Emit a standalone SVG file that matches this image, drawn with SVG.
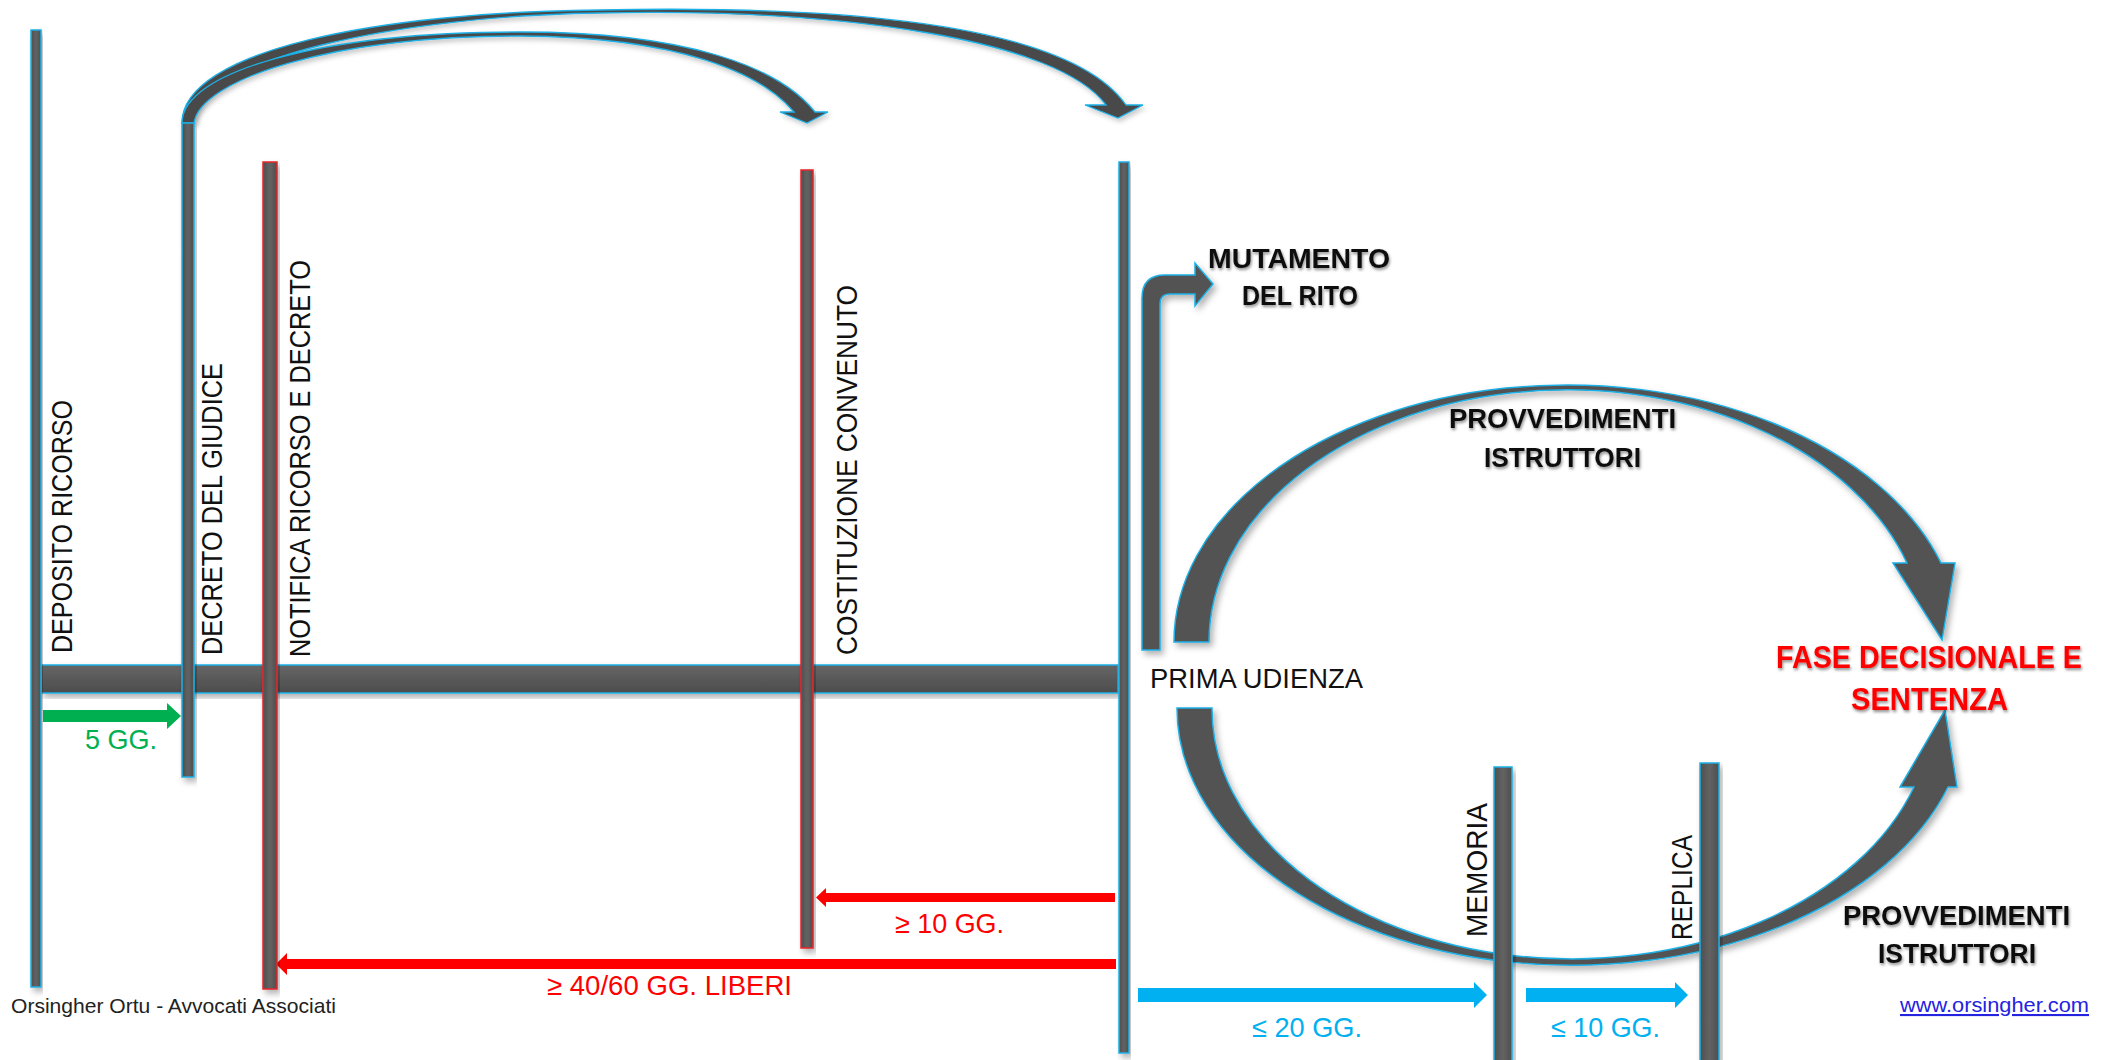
<svg xmlns="http://www.w3.org/2000/svg" width="2104" height="1060" viewBox="0 0 2104 1060">
<defs>
<filter id="sh" x="-20%" y="-20%" width="140%" height="140%"><feDropShadow dx="3" dy="4" stdDeviation="3" flood-color="#000" flood-opacity="0.3"/></filter>
<filter id="sh2" x="-20%" y="-20%" width="140%" height="140%"><feDropShadow dx="2" dy="3" stdDeviation="2.5" flood-color="#000" flood-opacity="0.22"/></filter>
<filter id="ts" x="-10%" y="-30%" width="120%" height="160%"><feDropShadow dx="1" dy="2" stdDeviation="1.5" flood-color="#000" flood-opacity="0.45"/></filter>
<linearGradient id="gv" x1="0" y1="0" x2="1" y2="0"><stop offset="0" stop-color="#4e4e4e"/><stop offset="0.5" stop-color="#636363"/><stop offset="1" stop-color="#4e4e4e"/></linearGradient>
<linearGradient id="gh" x1="0" y1="0" x2="0" y2="1"><stop offset="0" stop-color="#666"/><stop offset="1" stop-color="#4c4c4c"/></linearGradient>
<style>
.bar{fill:url(#gv);stroke:#1eb0e6;stroke-width:1.5;filter:url(#sh)}
.rbar{fill:url(#gv);stroke:#e8242a;stroke-width:1.5;filter:url(#sh)}
.arr{fill:#525252;stroke:#1eb0e6;stroke-width:1.5;filter:url(#sh)}
.thin{fill:#4a4a4a;stroke:#1eb0e6;stroke-width:1.3;filter:url(#sh2)}
.t{font-family:"Liberation Sans",Arial,sans-serif;font-size:29px;fill:#111}
.b{font-weight:bold;filter:url(#ts)}
</style>
</defs>

<g id="timeline">
<rect x="41" y="665" width="1077" height="28" fill="url(#gh)" stroke="#1eb0e6" stroke-width="1.5" filter="url(#sh)"/>
</g>

<g id="connectors">
<path class="thin" d="M182,123 C182,50 380,12 600,10 C850,5 1070,25 1126,105 L1143,105 L1118,118 L1085,105 L1106,105 C1058,40 845,8 600,13 C400,16 196,58 194,123 Z"/>
<path class="thin" d="M182,123 C182,72 320,32 520,32 C690,32 780,68 815,112 L828,112 L807,123 L780,112 L794,112 C762,74 682,37 520,36 C330,36 200,80 194,123 Z"/>
<path class="arr" d="M1142,650 V298 Q1142,275 1165,275 H1195 V263 L1213,284 L1195,306 V294 H1170 Q1160,294 1160,304 V650 Z"/>
<path class="arr" d="M1174,642 A393,257 0 0 1 1941,563 L1955,563 L1942,640 L1893,563 L1907,563 A358,252 0 0 0 1209,642 Z"/>
<path class="arr" d="M1177,708 A395,257 0 0 0 1948,787 L1957,787 L1945,710 L1900,787 L1914,787 A360,250 0 0 1 1212,708 Z"/>
<path fill="#00B050" d="M43,710 H167 V703 L181,716 L167,729 V722 H43 Z"/>
<path fill="#FF0000" d="M1115,893 H826 V888 L816,897.5 L826,907 V902 H1115 Z"/>
<path fill="#FF0000" d="M1116,959 H287 V953 L276,964 L287,975 V969 H1116 Z"/>
<path fill="#00B0F0" d="M1138,988 H1474 V982 L1487,995 L1474,1008 V1002 H1138 Z"/>
<path fill="#00B0F0" d="M1526,988 H1675 V982 L1688,995 L1675,1008 V1002 H1526 Z"/>
</g>

<g id="deposito">
<rect class="bar" x="31" y="30" width="10" height="957"/>
<text class="t" transform="translate(72,653) rotate(-90)" textLength="253" lengthAdjust="spacingAndGlyphs">DEPOSITO RICORSO</text>
</g>
<g id="decreto">
<rect class="bar" x="182" y="123" width="12" height="654"/>
<text class="t" transform="translate(222,655) rotate(-90)" textLength="292" lengthAdjust="spacingAndGlyphs">DECRETO DEL GIUDICE</text>
</g>
<g id="notifica">
<rect class="rbar" x="263" y="162" width="14" height="827"/>
<text class="t" transform="translate(310,657) rotate(-90)" textLength="397" lengthAdjust="spacingAndGlyphs">NOTIFICA RICORSO E DECRETO</text>
</g>
<g id="costituzione">
<rect class="rbar" x="801" y="170" width="12" height="778"/>
<text class="t" transform="translate(857,655) rotate(-90)" textLength="370" lengthAdjust="spacingAndGlyphs">COSTITUZIONE CONVENUTO</text>
</g>
<g id="prima-udienza">
<rect class="bar" x="1119" y="162" width="10" height="891"/>
<text class="t" x="1150" y="688" style="font-size:28px" textLength="213" lengthAdjust="spacingAndGlyphs">PRIMA UDIENZA</text>
</g>
<g id="memoria">
<rect class="bar" x="1494" y="767" width="18" height="300"/>
<text class="t" transform="translate(1487,937) rotate(-90)" textLength="134" lengthAdjust="spacingAndGlyphs">MEMORIA</text>
</g>
<g id="replica">
<rect class="bar" x="1700" y="763" width="19" height="300"/>
<text class="t" transform="translate(1692,940) rotate(-90)" textLength="105" lengthAdjust="spacingAndGlyphs">REPLICA</text>
</g>
<g id="mutamento">
<text class="t b" x="1208" y="268" style="font-size:27px" textLength="182" lengthAdjust="spacingAndGlyphs">MUTAMENTO</text>
<text class="t b" x="1242" y="305" style="font-size:27px" textLength="116" lengthAdjust="spacingAndGlyphs">DEL RITO</text>
</g>
<g id="provvedimenti-1">
<text class="t b" x="1449" y="428" style="font-size:27px" textLength="227" lengthAdjust="spacingAndGlyphs">PROVVEDIMENTI</text>
<text class="t b" x="1484" y="467" style="font-size:27px" textLength="157" lengthAdjust="spacingAndGlyphs">ISTRUTTORI</text>
</g>
<g id="fase-decisionale">
<text class="t b" x="1776" y="668" style="font-size:31px;fill:#FF0000" textLength="306" lengthAdjust="spacingAndGlyphs">FASE DECISIONALE E</text>
<text class="t b" x="1851" y="710" style="font-size:31px;fill:#FF0000" textLength="157" lengthAdjust="spacingAndGlyphs">SENTENZA</text>
</g>
<g id="provvedimenti-2">
<text class="t b" x="1843" y="925" style="font-size:27px" textLength="227" lengthAdjust="spacingAndGlyphs">PROVVEDIMENTI</text>
<text class="t b" x="1878" y="963" style="font-size:27px" textLength="158" lengthAdjust="spacingAndGlyphs">ISTRUTTORI</text>
</g>
<g id="labels">
<text class="t" x="85" y="749" style="font-size:28px;fill:#00B050" textLength="72" lengthAdjust="spacingAndGlyphs">5 GG.</text>
<text class="t" x="895" y="933" style="font-size:28px;fill:#FF0000" textLength="109" lengthAdjust="spacingAndGlyphs">≥ 10 GG.</text>
<text class="t" x="547" y="995" style="font-size:28px;fill:#FF0000" textLength="245" lengthAdjust="spacingAndGlyphs">≥ 40/60 GG. LIBERI</text>
<text class="t" x="1252" y="1037" style="font-size:28px;fill:#00B0F0" textLength="110" lengthAdjust="spacingAndGlyphs">≤ 20 GG.</text>
<text class="t" x="1551" y="1037" style="font-size:28px;fill:#00B0F0" textLength="109" lengthAdjust="spacingAndGlyphs">≤ 10 GG.</text>
<text class="t" x="11" y="1013" style="font-size:21px;fill:#222" textLength="325" lengthAdjust="spacingAndGlyphs">Orsingher Ortu - Avvocati Associati</text>
<text class="t" x="1900" y="1012" style="font-size:21px;fill:#2323e0;text-decoration:underline" textLength="189" lengthAdjust="spacingAndGlyphs">www.orsingher.com</text>
</g>
</svg>
